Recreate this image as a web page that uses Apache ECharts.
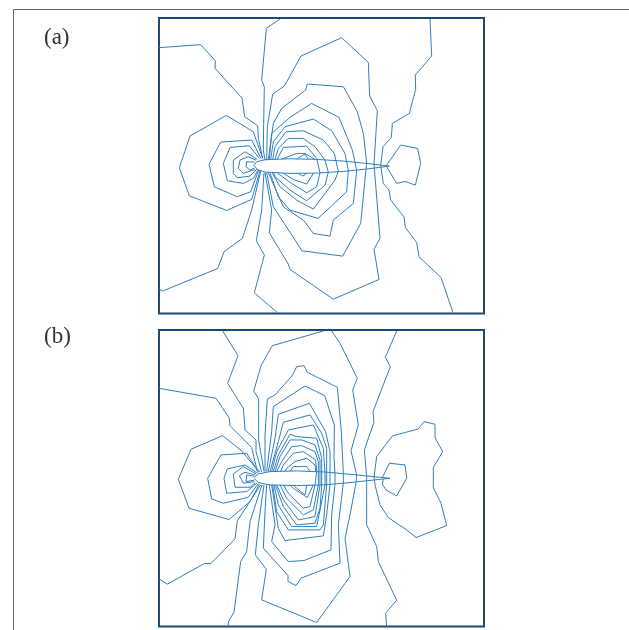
<!DOCTYPE html>
<html><head><meta charset="utf-8"><style>html,body{margin:0;padding:0;background:#fff}#c{width:629px;height:630px}</style>
<script src="https://cdn.jsdelivr.net/npm/echarts@6/dist/echarts.min.js"></script></head><body><div id="c"></div>
<script>
const panelLabels=['(a)','(b)'];
// Panel (a) contours (field units)
const aFoilU=[[312,466],[320,455],[345,449],[420,446],[500,448],[580,453],[650,460],[718,468]];
const aFoilL=[[312,466],[322,478],[345,486],[420,490],[500,489],[580,484],[650,477],[718,468]];
const a01=[[27,113],[152,104],[196,152],[195,175],[276,264],[284,320],[323,347],[325,385],[338,445]];
const a02=[[390,27],[349,55],[335,210],[343,230],[341,340],[340,420],[345,450]];
const a03=[[350,450],[352,350],[368,252],[403,228],[453,138],[575,83],[655,157],[659,258],[682,302],[672,462],[690,685],[672,717],[687,808],[550,867],[420,778],[415,762],[358,668],[365,600],[345,488]];
const a04=[[840,27],[845,138],[796,195],[797,238],[778,310],[727,340],[724,383],[699,410],[692,465],[700,520],[717,540],[722,570],[762,620],[766,652],[800,697],[807,740],[873,802],[910,910]];
const a05=[[383,908],[313,848],[343,735],[319,692],[335,600],[342,488]];
const a06=[[27,838],[40,842],[203,775],[222,725],[277,685],[305,600],[332,484]];
const a07=[[338,445],[310,365],[229,316],[120,378],[88,473],[118,557],[230,601],[305,568],[330,482]];
const a08=[[333,445],[305,390],[212,396],[177,463],[193,530],[262,560],[302,545],[326,480]];
const a09=[[328,445],[298,407],[240,412],[220,460],[232,512],[280,520],[310,505],[324,480]];
const a10=[[322,448],[285,425],[250,450],[250,490],[262,503],[300,498],[320,478]];
const a11=[[318,450],[295,440],[270,450],[265,475],[280,490],[316,478]];
const a12=[[314,456],[290,455],[288,470],[300,480],[313,474]];
const a13=[[708,468],[752,405],[803,415],[812,460],[796,525],[765,514],[740,520],[710,470]];
const a14=[[355,449],[370,340],[395,295],[467,240],[472,222],[580,230],[622,305],[640,370],[650,458],[648,478],[632,640],[578,738],[456,722],[370,590],[350,488]];
const a15=[[358,449],[365,370],[420,322],[485,280],[567,322],[607,420],[615,455],[620,482],[610,580],[550,630],[540,678],[490,670],[462,632],[400,590],[355,488]];
const a16=[[362,449],[370,395],[405,350],[490,327],[545,362],[585,430],[595,480],[590,545],[504,625],[420,600],[385,560],[360,488]];
const a17=[[368,449],[375,410],[408,365],[460,362],[520,390],[553,430],[565,484],[555,510],[490,597],[440,570],[390,530],[367,489]];
const a18=[[375,448],[385,415],[415,385],[460,385],[495,410],[525,450],[535,486],[525,525],[470,572],[420,540],[375,500],[372,489]];
const a19=[[382,447],[400,412],[440,410],[470,408],[500,445],[510,488],[500,530],[470,548],[425,520],[382,489]];
const a20=[[395,447],[440,430],[465,430],[495,448]];
const a21=[[400,490],[430,508],[470,522],[490,489]];
const a22=[[440,447],[465,432],[475,447]];
const a23=[[445,490],[458,498],[470,490]];
const contoursA=[aFoilU,aFoilL,a01,a02,a03,a04,a05,a06,a07,a08,a09,a10,a11,a12,a13,a14,a15,a16,a17,a18,a19,a20,a21,a22,a23];
// Panel (b) contours
const bFoilU=[[312,458],[325,447],[360,440],[440,438],[520,441],[600,448],[720,460]];
const bFoilL=[[312,460],[325,473],[360,480],[440,482],[520,480],[600,473],[720,460]];
const b01=[[27,190],[198,220],[238,280],[240,302],[305,368],[322,440]];
const b02=[[218,18],[264,92],[233,175],[280,250],[285,315],[318,345],[318,380],[335,441]];
const b03=[[520,18],[367,62],[334,120],[311,198],[326,222],[326,345],[342,440]];
const b04=[[545,18],[570,55],[622,160],[608,195],[625,300],[603,378],[620,450],[618,474],[600,570],[585,640],[600,755],[500,893],[335,825],[349,733],[316,690],[325,600],[342,480]];
const b05=[[740,18],[706,97],[721,125],[669,260],[672,292],[643,375],[650,455],[650,600],[680,665],[685,710],[740,826],[707,865],[710,905]];
const b06=[[672,456],[680,395],[727,333],[805,312],[822,290],[855,298],[855,338],[878,380],[850,428],[850,488],[873,535],[890,602],[798,638],[770,615],[715,578],[690,540],[675,480],[672,456]];
const b07=[[697,458],[718,415],[765,420],[770,460],[740,513],[708,495],[697,478],[700,462]];
const b08=[[345,440],[345,330],[352,222],[375,210],[428,150],[440,125],[462,122],[472,142],[562,187],[574,320],[580,445],[580,475],[565,600],[570,715],[453,760],[438,782],[414,770],[414,752],[340,670],[345,560],[350,480]];
const b09=[[350,440],[365,320],[370,245],[465,183],[524,212],[553,300],[552,400],[555,445],[555,478],[545,570],[543,675],[462,707],[415,710],[365,650],[375,600],[358,480]];
const b10=[[355,440],[375,340],[385,268],[478,235],[527,320],[540,380],[540,445],[540,478],[530,570],[520,633],[405,647],[390,620],[385,610],[365,480]];
const b11=[[360,440],[385,350],[400,292],[480,270],[515,325],[530,370],[530,478],[520,600],[510,615],[415,615],[380,560],[368,480]];
const b12=[[365,440],[380,380],[415,315],[490,300],[520,370],[525,445],[525,480],[500,605],[425,605],[385,540],[372,480]];
const b13=[[370,440],[385,390],[420,328],[440,335],[500,340],[515,400],[515,480],[510,550],[495,595],[440,600],[400,545],[376,480]];
const b14=[[375,440],[390,395],[420,345],[455,345],[495,360],[510,405],[510,480],[495,575],[445,585],[400,525],[380,480]];
const b15=[[380,440],[395,410],[425,365],[455,362],[495,380],[505,410],[505,480],[490,555],[460,570],[410,520],[390,480]];
const b16=[[392,440],[400,420],[430,385],[460,380],[497,405],[500,440],[495,480],[480,545],[460,550],[415,505],[400,480]];
const b17=[[405,440],[410,430],[435,410],[470,400],[495,420],[497,440]];
const b18=[[490,480],[472,518],[430,490],[420,480]];
const b19=[[420,440],[430,425],[470,425],[480,440]];
const b20=[[470,480],[465,510],[440,490],[430,480]];
const b21=[[330,441],[310,420],[275,378],[218,332],[123,373],[85,463],[117,550],[237,584],[300,530],[328,478]];
const b22=[[326,443],[290,385],[213,390],[173,460],[185,522],[220,535],[295,517],[324,477]];
const b23=[[322,445],[285,420],[232,432],[222,460],[230,505],[290,500],[320,475]];
const b24=[[318,447],[280,425],[250,447],[255,487],[300,487],[316,473]];
const b25=[[315,450],[285,442],[268,452],[280,475],[313,470]];
const b26=[[313,454],[290,450],[288,470],[312,466]];
const b27=[[27,762],[52,778],[163,716],[183,716],[255,642],[262,588],[332,480]];
const b28=[[235,905],[235,890],[252,862],[272,710],[290,680],[300,590],[336,480]];
const contoursB=[bFoilU,bFoilL,b01,b02,b03,b04,b05,b06,b07,b08,b09,b10,b11,b12,b13,b14,b15,b16,b17,b18,b19,b20,b21,b22,b23,b24,b25,b26,b27,b28];

const lineColor='#2f80c0', frameColor='#1f4a6e';
const hidden={show:false};
function axis(gridIndex,min,max,inverse){return {type:'value',gridIndex,min,max,inverse,show:false,splitLine:hidden};}
function series(list,idx){return list.map(data=>({type:'line',xAxisIndex:idx,yAxisIndex:idx,data,symbol:'none',smooth:false,silent:true,animation:false,lineStyle:{color:lineColor,width:1},clip:true}));}
const chart=echarts.init(document.getElementById('c'),null,{renderer:'canvas'});
chart.setOption({
  backgroundColor:'#fff',animation:false,
  tooltip:{show:false},legend:{show:false},
  grid:[
    {left:159,top:18,width:325,height:295.5,show:true,borderColor:frameColor,borderWidth:2,backgroundColor:'transparent'},
    {left:159,top:330,width:325,height:296.5,show:true,borderColor:frameColor,borderWidth:2,backgroundColor:'transparent'}],
  xAxis:[axis(0,27,1002,false),axis(1,27,1002,false)],
  yAxis:[axis(0,24,910,true),axis(1,15,905,true)],
  series:[...series(contoursA,0),...series(contoursB,1)],
  graphic:[
    {type:'line',silent:true,shape:{x1:13.5,y1:9.5,x2:629,y2:9.5},style:{stroke:'#666',lineWidth:1}},
    {type:'line',silent:true,shape:{x1:13.5,y1:9.5,x2:13.5,y2:630},style:{stroke:'#666',lineWidth:1}},
    {type:'text',left:44,top:26,style:{text:panelLabels[0],font:'23px "Liberation Serif"',fill:'#333'}},
    {type:'text',left:44,top:325,style:{text:panelLabels[1],font:'23px "Liberation Serif"',fill:'#333'}}
  ]
});
</script></body></html>
